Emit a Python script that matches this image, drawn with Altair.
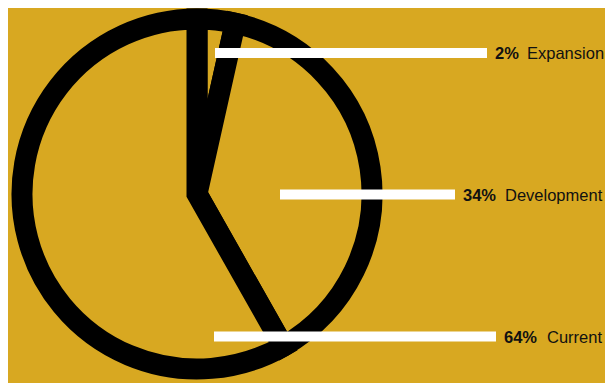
import altair as alt
import pandas as pd

# ---- data ----
categories = ["Expansion", "Development", "Current"]
pct_labels = ["2%", "34%", "64%"]
slice_shares = [3.5, 38.3, 58.2]   # share of the circle as drawn

# ---- layout / style (chart pixel space) ----
W, H = 597, 375
GOLD = "#D8A821"
FONT = "Liberation Sans"
CX, CY, R = 189, 186, 175
leader_y = [45, 186.5, 328.5]
leader_x0 = [207, 272, 206]
leader_x1 = [479, 447, 488]
name_x = [519, 497, 539]

pie_df = pd.DataFrame({
    "category": categories,
    "share": slice_shares,
    "idx": list(range(len(categories))),
})

lab_df = pd.DataFrame({
    "category": categories,
    "pct": pct_labels,
    "y": leader_y,
    "x0": leader_x0,
    "x1": leader_x1,
    "xn": name_x,
})

xs = alt.Scale(domain=[0, W], range=[0, W], nice=False, zero=False)
ys = alt.Scale(domain=[0, H], range=[0, H], nice=False, zero=False)

pie = alt.Chart(pie_df).mark_arc(
    outerRadius=R, fill=GOLD, stroke="black", strokeWidth=21, strokeJoin="miter"
).encode(
    theta=alt.Theta("share:Q", stack=True),
    order=alt.Order("idx:Q"),
    x=alt.value(CX),
    y=alt.value(CY),
)

base = alt.Chart(lab_df)

leaders = base.mark_rule(color="white", strokeWidth=10, strokeCap="butt").encode(
    x=alt.X("x0:Q", scale=xs, axis=None),
    x2="x1:Q",
    y=alt.Y("y:Q", scale=ys, axis=None),
)

pcts = base.mark_text(
    align="left", baseline="middle", font=FONT, fontSize=16.5,
    fontWeight="bold", color="#111111", dx=8, dy=1,
).encode(
    x=alt.X("x1:Q", scale=xs, axis=None),
    y=alt.Y("y:Q", scale=ys, axis=None),
    text="pct:N",
)

names = base.mark_text(
    align="left", baseline="middle", font=FONT, fontSize=16.5,
    fontWeight="normal", color="#111111", dy=1,
).encode(
    x=alt.X("xn:Q", scale=xs, axis=None),
    y=alt.Y("y:Q", scale=ys, axis=None),
    text="category:N",
)

chart = alt.layer(pie, leaders, pcts, names).properties(
    width=W, height=H,
    background=GOLD,
    padding=0,
    autosize=alt.AutoSizeParams(type="none"),
).configure_view(stroke=None)

chart.save("out.html", embed_options={"renderer": "svg", "actions": False})
